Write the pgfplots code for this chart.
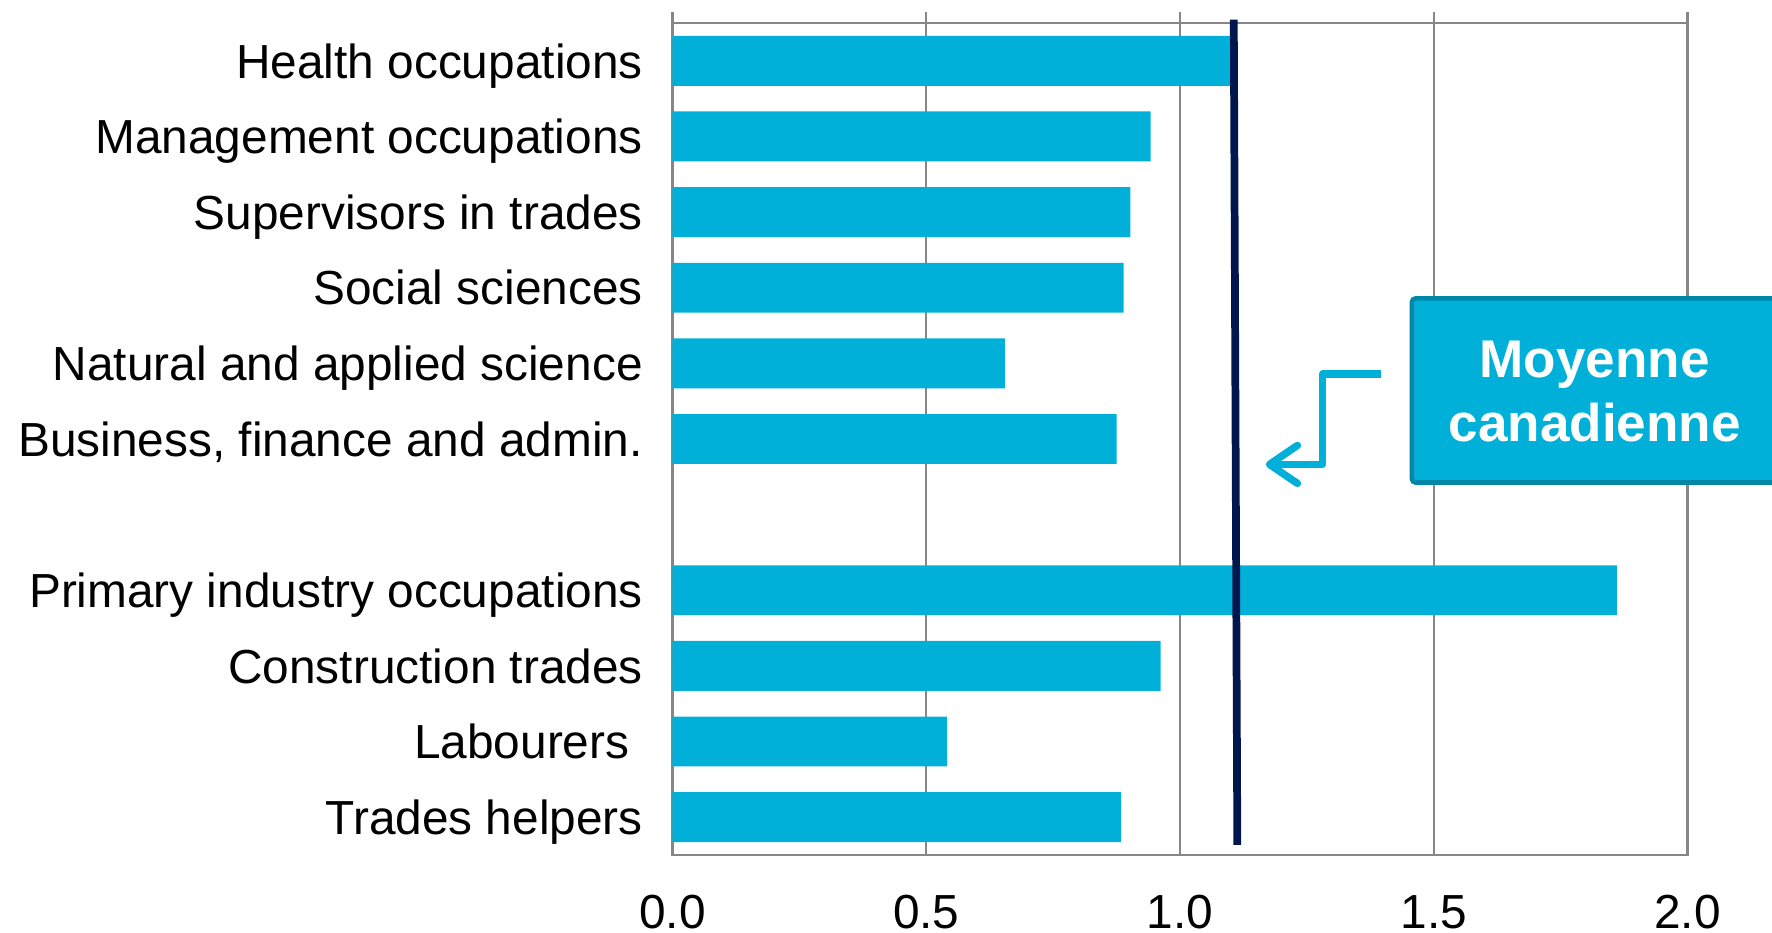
\documentclass[border=0pt]{standalone}
\usepackage{pgfplots}
\usepackage{pgfplotstable}
\usepackage{fontspec}
\setmainfont{Liberation Sans}
\usetikzlibrary{arrows.meta}
\pgfplotsset{compat=1.18}
\definecolor{barblue}{RGB}{0,176,216}
\definecolor{boxedge}{RGB}{0,134,166}
\definecolor{navy}{RGB}{0,22,76}
\definecolor{gridgray}{RGB}{135,135,135}

% slot 4 is left empty as a gap between the two groups
\pgfplotstableread{
y  val
10 1.10
9  0.942
8  0.902
7  0.889
6  0.655
5  0.875
3  1.861
2  0.962
1  0.541
0  0.884
}\ratiotable

\begin{document}
\begin{tikzpicture}
\useasboundingbox (-6.725,-0.78) rectangle (10.995,8.55);
\clip (-6.725,-0.78) rectangle (10.995,8.55);
\begin{axis}[
  at={(0,0)}, anchor=south west,
  scale only axis, width=10.15cm, height=8.32cm,
  xmin=0, xmax=2, ymin=-0.5, ymax=10.5,
  bar width=0.66,
  xtick={0,0.5,1,1.5,2},
  xtick pos=upper, xticklabel pos=lower,
  tick align=outside, major tick length=0.11cm,
  xtick style={gridgray, line width=0.6pt},
  ytick={0,1,2,3,5,6,7,8,9,10},
  yticklabels={Trades helpers, Labourers\kern3.8pt, Construction trades,
    Primary industry occupations, {Business, finance and admin.},
    Natural and applied science, Social sciences, Supervisors in trades,
    Management occupations, Health occupations},
  ytick style={draw=none},
  xmajorgrids, major grid style={gridgray, line width=0.6pt},
  axis line style={gridgray, line width=0.6pt},
  ticklabel style={font=\fontsize{13.6}{16}\selectfont},
  /pgf/number format/assume math mode=true,
  x tick label style={/pgf/number format/.cd, fixed, fixed zerofill, precision=1, /tikz/.cd,
    anchor=center, inner sep=0pt, yshift=-0.46cm},
  y tick label style={anchor=base east, inner sep=0pt, xshift=-0.18cm, yshift=-4.9pt},
  clip=false,
]
  \addplot[xbar, fill=barblue, draw=none] table[x=val, y=y] {\ratiotable};
  % Canadian average
  \addplot[navy, line width=2.2pt, no marks] coordinates {(1.106,10.545) (1.113,-0.366)};

  \draw[barblue, line width=2.1pt, line join=round,
        -{Straight Barb[length=2.8mm, width=3.8mm, round]}]
    (axis cs:1.396,5.858) -- (axis cs:1.281,5.858) -- (axis cs:1.281,4.664) -- (axis cs:1.169,4.664);
  \draw[fill=barblue, draw=boxedge, line width=1.3pt, rounded corners=1pt]
    (axis cs:1.457,4.425) rectangle (axis cs:2.35,6.858);
  \node[white, align=center, font=\bfseries\fontsize{15.1}{18.2}\selectfont]
    at (axis cs:1.817,5.627) {Moyenne\\canadienne};
\end{axis}
\end{tikzpicture}
\end{document}
